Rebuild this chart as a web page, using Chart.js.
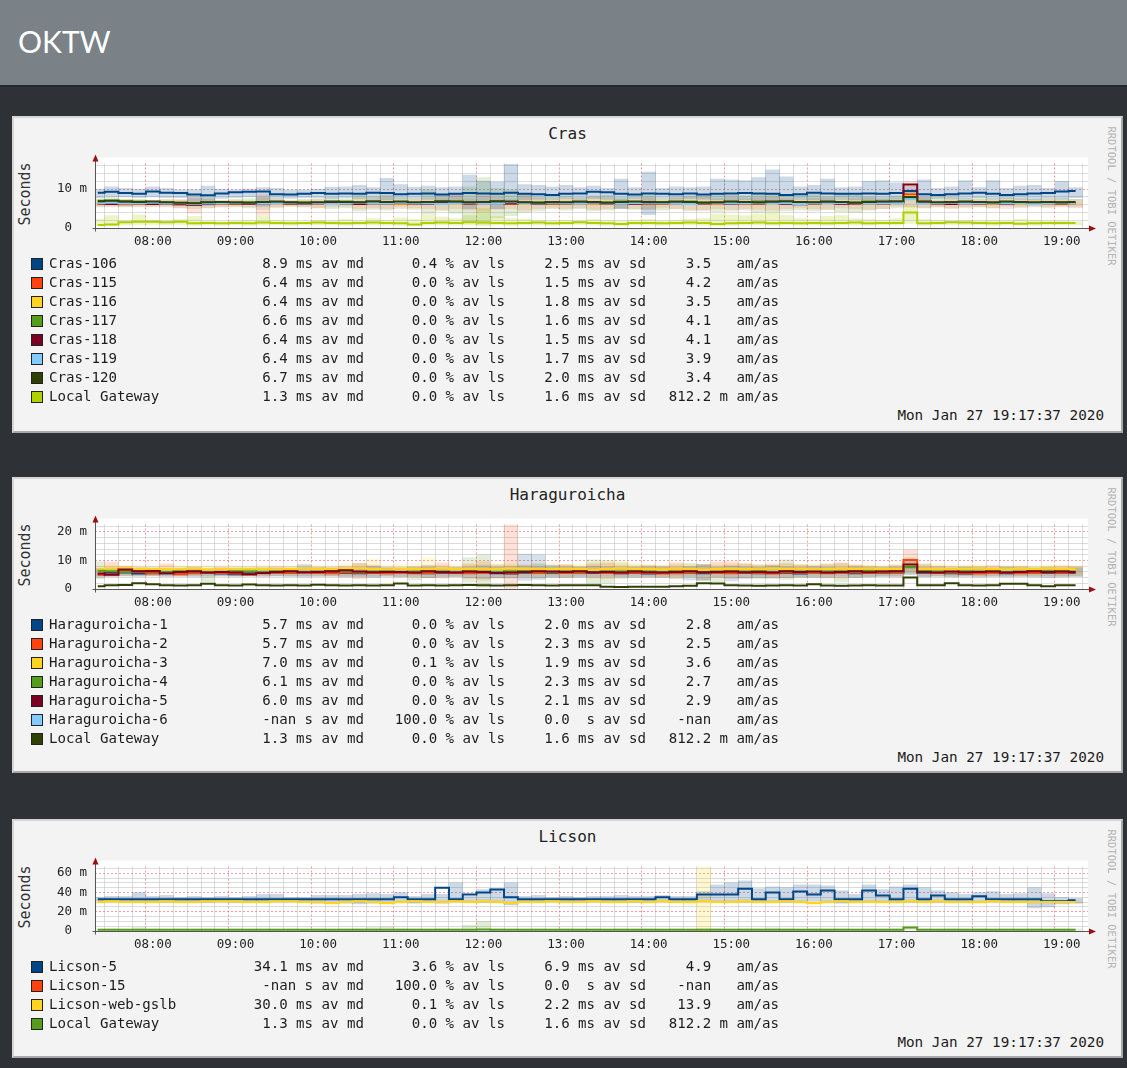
<!DOCTYPE html>
<html>
<head>
<meta charset="utf-8">
<title>OKTW</title>
<script src="https://cdn.jsdelivr.net/npm/chart.js@4.4.1/dist/chart.umd.min.js"></script>
<style>
  html, body { margin: 0; padding: 0; }
  body { width: 1127px; height: 1068px; background: #2e3236; position: relative; overflow: hidden; }
  .head { position: absolute; left: 0; top: 0; width: 1127px; height: 85px; background: #7a8187; border-bottom: 2px solid #24282b; }
  .head h1 { position: absolute; left: 18px; top: 23px; margin: 0; font: 400 30px Lato, "Open Sans", sans-serif; color: #fff; }
  .panel { position: absolute; left: 12px; width: 1111px; box-sizing: border-box; background: #f3f3f3;
           border: 2px solid #d6d6d6; border-right-color: #a9a9a9; border-bottom-color: #a9a9a9; }
  .panel canvas { position: absolute; left: 0; top: 30px; }
  .ttl { position: absolute; left: 0; width: 1107px; top: 6px; text-align: center; font: 16px "DejaVu Sans Mono", monospace; color: #222; }
  .ylab { position: absolute; left: 11px; top: 76px; transform: translate(-50%, -50%) rotate(-90deg); font: 15px "DejaVu Sans Mono", monospace; color: #333; white-space: nowrap; }
  .rrd { position: absolute; left: 1098px; top: 78px; transform: translate(-50%, -50%) rotate(90deg); font: 10.5px "DejaVu Sans Mono", monospace; color: #b4b4b4; white-space: nowrap; }
  .row { position: absolute; left: 0; width: 1107px; height: 19px; font: 14.1px "DejaVu Sans Mono", monospace; color: #1c1c1c; line-height: 19px; white-space: pre; }
  .row .sw { position: absolute; left: 17px; top: 4px; width: 10px; height: 10px; border: 1px solid #222; }
  .row .nm { position: absolute; left: 35px; }
  .row .c { position: absolute; }
  .date { position: absolute; right: 17px; font: 14.3px "DejaVu Sans Mono", monospace; color: #1c1c1c; line-height: 19px; white-space: pre; }
</style>
</head>
<body>
<div class="head"><h1>OKTW</h1></div>

<div class="panel" id="p1" style="top:116px;height:317px"></div>
<div class="panel" id="p2" style="top:477px;height:296px"></div>
<div class="panel" id="p3" style="top:819px;height:239px"></div>

<script>
// sample times (10 minute steps)
const times = [
  '07:20','07:30','07:40','07:50',
  '08:00','08:10','08:20','08:30','08:40','08:50',
  '09:00','09:10','09:20','09:30','09:40','09:50',
  '10:00','10:10','10:20','10:30','10:40','10:50',
  '11:00','11:10','11:20','11:30','11:40','11:50',
  '12:00','12:10','12:20','12:30','12:40','12:50',
  '13:00','13:10','13:20','13:30','13:40','13:50',
  '14:00','14:10','14:20','14:30','14:40','14:50',
  '15:00','15:10','15:20','15:30','15:40','15:50',
  '16:00','16:10','16:20','16:30','16:40','16:50',
  '17:00','17:10','17:20','17:30','17:40','17:50',
  '18:00','18:10','18:20','18:30','18:40','18:50',
  '19:00','19:10'
];
const hourTicks = ['08:00','09:00','10:00','11:00','12:00','13:00','14:00','15:00','16:00','17:00','18:00','19:00'];

// ---------- Cras (ms) ----------
const cras106 = [9.1,9.3,9.0,8.8,
  9.4,9.1,9.0,8.6,8.4,8.9, 9.2,9.3,9.4,8.7,8.6,8.8, 9.0,8.8,8.9,8.8,9.1,9.0,
  8.7,8.8,8.9,8.6,8.8,9.0, 8.9,8.8,9.1,8.8,8.7,8.5, 8.8,8.9,9.3,9.2,8.8,8.6,
  8.9,8.8,8.7,8.9,8.6,8.8, 8.9,9.0,8.9,8.8,8.5,8.7, 9.1,8.9,8.8,8.8,8.9,8.8,
  9.0,9.5,8.7,8.5,8.7,8.9, 9.1,8.8,8.5,8.7,8.9,9.0, 9.4,9.5];
const cras115 = [6.2,6.3,6.1,6.4,
  6.3,6.2,6.1,6.0,6.2,6.3, 6.4,6.2,6.3,6.5,6.6,6.4, 6.3,6.2,6.5,6.6,6.4,6.3,
  6.2,6.4,6.5,6.3,6.6,6.4, 6.5,6.6,6.3,6.4,6.2,6.3, 6.4,6.5,6.3,6.4,6.6,6.5,
  6.3,6.4,6.5,6.4,6.3,6.5, 6.4,6.3,6.5,6.6,6.4,6.2, 6.3,6.5,6.4,6.6,6.4,6.5,
  6.6,8.6,6.8,6.3,6.5,6.4, 6.3,6.5,6.6,6.4,6.3,6.5, 6.4,6.3];
const cras116 = [6.5,6.4,6.6,6.3,
  6.4,6.5,6.3,6.2,6.4,6.5, 6.3,6.4,6.6,6.5,6.3,6.4, 6.5,6.3,6.4,6.6,6.5,6.4,
  6.3,6.4,6.6,6.5,6.3,6.6, 6.7,6.5,6.4,6.3,6.5,6.4, 6.3,6.5,6.4,6.6,6.4,6.3,
  6.4,6.3,6.5,6.4,6.5,6.3, 6.4,6.6,6.4,6.3,6.5,6.4, 6.3,6.4,6.6,6.5,6.3,6.4,
  6.6,8.2,6.5,6.4,6.3,6.5, 6.4,6.3,6.5,6.4,6.6,6.4, 6.3,6.4];
const cras117 = [7.0,7.1,6.9,6.8,
  6.7,6.6,6.5,6.4,6.6,6.5, 6.4,6.6,6.7,6.5,6.4,6.6, 6.5,6.6,6.8,6.7,6.6,6.5,
  6.6,6.5,6.7,6.6,6.8,6.7, 6.6,6.8,6.7,6.5,6.6,6.4, 6.6,6.7,6.5,6.6,6.8,6.6,
  6.5,6.7,6.6,6.8,6.6,6.5, 6.7,6.6,6.8,6.7,6.5,6.6, 6.7,6.6,6.5,6.6,6.8,6.6,
  6.7,7.8,6.6,6.5,6.6,6.7, 6.6,6.5,6.7,6.6,6.5,6.6, 6.7,6.6];
const cras118 = [6.3,6.2,6.4,6.3,
  6.2,6.3,6.1,6.0,6.2,6.4, 6.3,6.2,6.4,6.6,6.3,6.2, 6.4,6.5,6.3,6.2,6.4,6.3,
  6.5,6.3,6.2,6.4,6.5,6.3, 6.4,6.6,6.3,6.5,6.2,6.4, 6.3,6.4,6.5,6.3,6.4,6.2,
  6.4,6.3,6.4,6.5,6.3,6.4, 6.2,6.4,6.3,6.5,6.2,6.1, 6.3,6.5,6.2,6.3,6.4,6.3,
  6.5,11.2,6.6,6.3,6.2,6.4, 6.3,6.4,6.2,6.5,6.3,6.4, 6.3,6.4];
const cras119 = [6.4,6.5,6.3,6.4,
  6.5,6.3,6.4,6.2,6.3,6.4, 6.5,6.4,6.3,6.4,6.5,6.3, 6.4,6.2,6.3,6.5,6.4,6.3,
  6.5,6.4,6.3,6.2,6.4,6.5, 6.3,6.4,6.6,6.4,6.3,6.5, 6.4,6.3,6.5,6.4,6.3,6.4,
  6.5,6.4,6.3,6.2,6.4,6.5, 6.3,6.4,6.5,6.3,6.4,6.2, 6.4,6.3,6.4,6.5,6.3,6.4,
  6.4,7.4,6.3,6.4,6.5,6.3, 6.4,6.5,6.3,6.4,6.2,6.4, 6.5,6.3];
const cras120 = [6.9,7.0,6.8,6.7,
  6.8,6.6,6.5,6.4,6.6,6.7, 6.6,6.5,6.7,6.8,6.6,6.5, 6.6,6.8,6.7,6.6,6.9,6.7,
  6.8,6.6,6.7,6.9,6.8,6.6, 6.7,6.9,6.8,6.6,6.5,6.7, 6.6,6.8,6.7,6.5,6.7,6.8,
  6.7,6.6,6.8,6.7,6.5,6.6, 6.8,6.7,6.6,6.8,6.9,6.7, 6.6,6.8,6.7,6.5,6.7,6.8,
  6.9,8.0,6.8,6.6,6.7,6.8, 6.7,6.6,6.8,6.7,6.6,6.7, 6.6,6.7];
const crasGw = [0.8,0.9,1.5,1.6,
  1.6,1.5,1.6,1.2,1.3,1.2, 1.3,1.2,1.4,1.3,1.2,1.3, 1.4,1.3,1.2,1.3,1.4,1.3,
  1.2,0.9,1.3,1.4,1.3,1.5, 1.4,1.3,1.2,1.3,1.4,1.2, 1.3,1.5,1.3,1.2,1.0,1.3,
  1.3,1.2,1.3,1.4,1.3,1.0, 1.2,1.3,1.4,1.2,1.3,1.2, 1.3,1.2,1.3,1.4,1.2,1.3,
  1.3,4.0,1.2,1.3,1.5,1.4, 1.3,1.2,1.3,1.1,1.2,1.3, 1.3,1.3];

// smoke ranges (low / high)
const cras106Lo = [7.8,8.0,8.0,7.8,
  8.0,7.8,7.8,6.0,5.8,7.6, 7.8,8.0,5.6,7.6,7.6,7.8, 7.8,7.6,7.8,7.6,7.4,7.2,
  7.4,7.6,7.4,7.0,7.2,5.0, 6.8,5.0,6.0,7.2,7.4,7.4, 7.6,7.4,7.6,7.4,5.0,7.6,
  3.4,7.6,7.4,7.6,7.4,7.2, 7.0,7.2,7.0,6.8,7.0,7.4, 7.2,7.0,7.4,7.2,7.0,7.0,
  7.4,7.6,7.2,7.6,7.6,7.4, 7.8,7.4,7.6,7.4,7.2,7.6, 7.4,7.8];
const cras106Hi = [10.0,10.6,10.2,10.0,
  10.6,10.2,9.8,9.9,10.8,10.0, 9.8,10.0,10.4,10.2,9.8,9.8, 10.0,10.5,10.6,11.0,10.4,12.8,
  11.2,10.5,10.8,10.4,10.6,13.6, 12.0,11.8,16.4,11.2,11.0,10.6, 11.0,10.4,10.8,10.2,12.6,10.4,
  14.4,10.2,10.6,10.4,10.6,12.6, 12.4,12.2,13.0,15.0,13.2,10.6, 11.0,12.6,10.4,10.6,12.0,12.2,
  11.6,10.8,12.4,10.2,10.6,12.2, 10.4,12.2,10.2,10.8,11.0,10.2, 12.0,10.4];
const cras117Lo = [5.4,5.6,5.4,5.6,
  5.4,5.6,5.2,5.0,5.2,5.4, 5.4,5.2,4.8,5.4,5.6,5.4, 5.2,5.0,5.2,4.4,4.8,4.6,
  5.0,4.8,3.6,4.4,3.8,1.6, 1.0,2.6,3.2,4.0,4.4,5.0, 4.6,5.0,4.4,4.6,5.0,4.8,
  4.8,4.6,5.0,4.4,4.6,4.2, 4.4,4.6,4.0,4.2,4.4,4.6, 4.4,4.8,4.2,4.0,4.6,5.0,
  5.2,5.4,5.2,5.4,5.2,5.4, 5.4,5.2,5.6,5.4,5.6,5.4, 5.6,5.4];
const cras117Hi = [7.6,7.8,7.4,7.4,
  7.2,7.4,7.2,7.6,7.8,7.2, 7.4,7.6,7.8,7.6,7.2,7.4, 7.6,7.8,7.6,8.4,8.0,8.6,
  7.8,7.6,9.8,8.8,8.6,10.6, 13.0,10.2,9.8,8.6,8.0,7.8, 8.2,7.8,8.2,8.4,7.8,8.0,
  8.4,7.6,8.0,8.2,8.0,8.8, 8.4,8.2,8.6,8.8,8.4,8.2, 8.8,8.0,8.6,8.4,8.0,7.8,
  8.2,9.6,7.8,8.0,7.8,7.6, 7.8,7.6,7.8,7.6,7.4,7.6, 7.6,7.4];
const cras115Lo = [5.6,5.4,5.6,5.4,
  5.6,5.4,5.2,3.8,5.2,5.4, 5.6,5.4,3.4,5.2,5.6,5.4, 5.2,5.4,5.6,5.0,5.2,5.0,
  5.4,5.2,5.0,4.8,5.0,4.6, 4.4,4.8,5.0,4.6,5.0,5.2, 5.0,5.2,4.8,5.0,5.2,5.0,
  4.8,5.2,5.0,4.8,4.6,5.0, 4.8,5.0,4.8,4.6,5.0,5.2, 5.0,4.8,5.2,5.0,4.8,5.0,
  5.6,5.4,5.2,5.4,5.0,5.2, 5.4,5.2,5.0,5.2,5.4,5.2, 5.4,5.2];
const cras115Hi = [7.2,7.0,7.4,7.2,
  7.0,7.2,7.4,8.0,7.4,7.0, 7.2,7.0,8.6,7.4,7.0,7.2, 7.4,7.2,7.0,7.6,7.4,7.8,
  7.2,7.4,7.6,7.8,8.4,7.6, 8.2,7.8,7.4,8.8,7.6,7.4, 7.6,7.4,7.8,7.6,7.4,7.6,
  7.8,7.4,7.6,7.8,8.2,7.6, 7.8,7.6,7.8,8.0,7.6,7.4, 7.6,7.8,7.4,7.6,7.8,7.4,
  7.6,12.0,8.0,7.2,7.6,7.2, 7.4,7.2,7.6,7.4,7.2,7.4, 7.2,7.4];
const crasGwLo = [0.6,0.6,0.8,0.9,
  0.9,0.8,0.9,0.7,0.8,0.7, 0.8,0.7,0.8,0.8,0.7,0.8, 0.8,0.8,0.7,0.8,0.8,0.7,
  0.7,0.6,0.8,0.8,0.7,0.8, 0.6,0.8,0.7,0.8,0.8,0.7, 0.8,0.9,0.8,0.7,0.6,0.8,
  0.8,0.7,0.8,0.8,0.7,0.6, 0.7,0.8,0.8,0.7,0.8,0.7, 0.8,0.7,0.8,0.8,0.7,0.8,
  0.8,1.2,0.7,0.8,0.9,0.8, 0.8,0.7,0.8,0.7,0.7,0.8, 0.8,0.8];
const crasGwHi = [2.2,3.2,1.8,3.4,
  2.0,1.8,2.2,3.0,1.8,1.6, 1.8,2.0,3.2,2.0,1.8,1.6, 2.0,1.8,2.2,1.8,2.4,2.0,
  2.6,2.2,3.4,2.8,2.4,3.2, 5.0,3.0,2.4,2.2,2.0,1.8, 2.0,1.8,2.2,2.0,1.8,2.0,
  2.2,1.8,2.0,2.2,2.4,3.6, 3.4,3.2,3.6,4.0,3.2,2.4, 2.2,3.0,3.2,2.4,2.2,2.0,
  2.4,5.6,2.2,2.0,1.8,2.0, 1.8,2.0,1.8,2.2,2.0,1.8, 1.8,1.6];

// ---------- Haraguroicha (ms) ----------
const har1 = [5.2,5.6,5.8,5.4,
  5.6,5.5,5.8,5.7,5.6,5.4, 5.2,5.5,5.7,5.8,5.6,5.9, 5.7,5.8,5.6,5.5,5.7,5.6,
  5.8,5.7,5.5,5.6,5.8,5.7, 5.6,5.5,5.4,5.7,5.8,5.6, 5.7,5.8,5.6,5.7,5.5,5.6,
  5.4,5.6,5.8,5.7,5.5,5.6, 5.7,5.6,5.5,5.8,5.6,5.4, 5.7,5.6,5.8,5.5,5.7,5.6,
  5.8,7.8,5.7,5.6,5.5,5.4, 5.6,5.7,5.5,5.6,5.8,5.6, 5.7,5.6];
const har2 = [5.0,5.2,6.4,6.0,
  5.4,5.6,5.2,5.5,5.7,5.6, 5.4,5.1,5.5,5.7,5.6,5.8, 5.6,5.5,5.8,5.7,5.6,5.5,
  5.7,5.5,5.6,5.8,5.6,5.5, 5.6,5.7,5.5,5.9,5.6,5.8, 5.6,5.7,5.8,5.6,5.5,5.7,
  5.6,5.4,5.5,5.7,5.8,5.6, 5.5,5.7,5.6,5.4,5.8,5.7, 5.6,5.5,5.7,5.8,5.6,5.7,
  5.8,10.2,5.9,5.6,5.7,5.5, 5.4,5.6,5.7,5.5,5.6,5.8, 5.7,5.8];
const har3 = [6.8,7.2,7.4,7.0,
  7.1,6.9,7.0,7.2,6.8,7.0, 6.9,7.1,7.0,6.8,7.0,7.2, 7.0,6.9,7.1,7.3,7.0,6.8,
  7.1,7.0,6.9,7.2,7.0,7.1, 6.9,7.0,7.2,7.1,6.9,7.0, 7.1,7.0,6.8,7.0,7.2,7.1,
  7.0,6.9,7.1,7.0,6.8,7.0, 7.1,7.0,6.9,7.2,7.0,7.1, 6.9,7.0,7.1,7.0,7.2,7.0,
  7.0,8.4,7.1,7.0,6.9,7.1, 7.2,7.0,6.9,7.1,7.0,7.2, 7.1,7.0];
const har4 = [6.4,6.2,6.0,6.3,
  6.1,6.0,6.2,6.1,5.9,6.0, 6.2,6.1,6.0,6.2,6.1,6.0, 6.1,6.3,6.2,6.0,6.1,6.2,
  6.0,6.1,6.2,6.1,6.0,6.2, 6.1,6.0,6.2,6.3,6.1,6.0, 6.2,6.1,6.0,6.2,6.1,6.3,
  6.1,6.0,6.2,6.1,6.0,6.1, 6.2,6.1,6.3,6.0,6.2,6.1, 6.0,6.1,6.2,6.1,6.3,6.1,
  6.2,7.6,6.3,6.1,6.0,6.2, 6.1,6.2,6.0,6.1,6.2,6.3, 6.2,6.1];
const har5 = [5.4,5.0,6.8,6.2,
  6.3,5.5,6.0,6.2,5.8,6.0, 5.8,5.2,5.6,6.0,6.2,5.9, 6.0,6.2,6.6,6.1,5.9,6.0,
  6.0,5.8,6.2,6.0,5.8,6.1, 6.0,5.6,5.8,6.0,6.2,6.1, 6.0,6.2,5.9,6.0,5.8,6.1,
  5.9,5.8,6.0,6.2,5.9,6.0, 6.1,5.9,6.0,5.8,6.2,6.0, 6.1,5.8,6.0,6.2,5.9,6.1,
  6.2,8.6,6.0,5.8,6.1,5.9, 6.0,6.1,5.8,6.0,6.2,6.0, 6.1,6.0];
const harGw = [1.0,1.3,1.4,2.0,
  1.7,1.3,1.2,1.3,1.8,1.3, 1.2,1.6,1.3,1.2,1.3,1.2, 1.5,1.3,1.2,1.3,1.2,1.3,
  1.9,1.2,1.3,1.2,1.3,1.4, 1.3,1.2,1.3,1.4,1.3,1.2, 1.3,1.3,1.3,0.8,0.7,0.8,
  0.8,0.8,1.0,1.1,2.0,1.9, 1.3,1.2,1.1,1.2,1.3,1.2, 1.7,1.2,1.1,1.2,1.3,1.2,
  1.2,4.0,1.3,1.3,2.0,1.3, 1.2,1.3,1.8,1.8,1.3,1.0, 1.3,1.3];

const har1Lo = [4.2,4.4,4.6,4.4,
  4.6,4.4,4.6,4.2,4.4,4.6, 4.4,4.6,4.4,4.6,4.4,4.2, 4.4,4.6,4.2,4.4,4.0,4.4,
  4.2,4.4,4.0,4.2,4.4,4.0, 3.6,4.0,3.8,3.0,3.4,4.0, 4.2,4.0,4.2,4.4,4.2,4.0,
  4.2,4.0,4.4,3.2,3.0,4.2, 2.8,3.6,4.0,3.8,4.0,4.2, 4.0,4.2,4.4,4.0,4.2,4.4,
  4.4,5.0,4.2,4.4,4.2,4.4, 4.2,4.4,4.2,4.4,4.2,4.0, 4.2,4.4];
const har1Hi = [7.0,7.2,7.4,7.0,
  7.2,7.0,6.8,7.2,7.0,7.4, 7.0,7.2,7.4,7.0,7.2,8.6, 7.4,7.2,7.0,7.6,8.0,7.4,
  7.2,7.4,7.6,7.2,7.4,7.8, 8.2,7.6,7.8,12.2,12.0,8.4, 7.8,7.6,8.0,7.8,7.4,7.6,
  7.8,7.6,7.4,7.8,8.6,7.6, 8.0,7.8,7.6,8.2,7.8,7.6, 7.8,7.6,7.4,7.8,7.6,7.4,
  7.6,10.4,7.6,7.4,7.2,7.6, 7.4,7.2,7.6,7.4,7.2,7.4, 7.2,7.4];
const har2Lo = [4.6,4.2,4.8,4.6,
  4.8,4.4,4.6,4.8,4.6,4.4, 4.6,4.8,4.4,4.6,4.8,4.6, 4.4,4.6,4.2,3.6,4.4,4.6,
  4.4,4.2,4.0,3.8,4.4,3.6, 3.0,3.8,0.2,4.0,4.2,4.4, 4.0,4.4,3.8,3.6,4.2,4.4,
  4.0,4.2,3.6,4.4,3.2,4.0, 3.8,4.0,4.2,3.8,4.0,4.2, 4.4,4.0,3.8,4.2,4.4,4.6,
  4.2,5.6,4.4,4.6,4.4,4.6, 4.6,4.4,4.6,4.4,4.6,4.4, 4.4,4.6];
const har2Hi = [7.2,9.4,8.0,7.4,
  7.0,8.8,7.2,7.6,7.0,7.4, 7.2,7.0,7.4,7.8,7.2,7.0, 7.6,7.4,7.8,9.0,8.4,7.6,
  7.4,7.8,8.2,9.2,7.6,8.8, 9.6,8.2,22.6,8.4,8.0,7.6, 8.6,7.8,8.8,9.0,8.2,7.8,
  8.2,8.0,9.2,8.0,8.6,9.4, 9.6,8.8,8.2,8.6,9.0,8.4, 8.0,8.6,9.2,8.4,8.0,7.8,
  8.4,13.8,8.8,8.0,7.8,7.6, 7.8,8.2,7.6,7.8,7.4,7.6, 8.0,7.8];
const har3Lo = [5.6,5.8,6.0,5.8,
  5.8,6.0,5.8,6.0,5.8,5.6, 5.8,6.0,5.8,5.6,5.8,6.0, 5.8,5.6,5.8,5.4,5.6,5.8,
  5.6,5.8,5.4,5.6,5.8,5.6, 5.4,5.6,5.4,5.6,5.4,5.6, 5.6,5.4,5.2,5.4,5.6,5.4,
  5.6,5.4,5.6,5.4,5.2,5.6, 5.4,5.6,5.4,5.2,5.6,5.4, 5.6,5.4,5.6,5.4,5.6,5.8,
  5.6,6.0,5.8,5.6,5.8,5.6, 5.8,5.6,5.8,5.6,5.8,5.6, 5.8,5.6];
const har3Hi = [8.2,8.4,8.0,8.2,
  8.0,8.4,8.2,8.0,8.2,8.4, 8.2,8.0,8.4,8.2,8.0,8.6, 8.4,8.2,8.8,8.6,10.6,8.4,
  8.6,8.8,11.0,8.4,8.6,8.8, 8.8,9.0,9.2,8.6,8.8,9.0, 8.6,8.8,9.2,9.4,9.6,9.0,
  8.8,8.6,9.0,8.8,8.6,8.8, 9.0,8.8,8.6,9.0,8.8,8.6, 8.8,8.6,8.4,8.8,8.6,8.4,
  8.6,9.6,8.4,8.8,8.6,8.4, 8.6,8.4,8.2,8.4,8.2,8.4, 8.6,8.4];
const har4Lo = [3.6,4.8,4.6,4.8,
  4.6,4.8,4.4,4.6,2.6,4.8, 4.6,4.4,4.8,4.6,4.4,4.6, 4.8,4.4,4.6,4.2,4.4,4.6,
  4.2,3.2,4.0,4.4,4.2,2.4, 0.6,3.8,4.0,4.4,3.8,4.2, 4.0,4.4,1.2,2.0,3.6,4.2,
  4.4,4.2,3.8,4.2,3.0,2.6, 3.8,4.0,3.6,4.2,3.4,4.0, 4.2,3.8,2.4,4.0,4.2,4.4,
  4.6,5.2,4.4,4.6,4.4,4.6, 4.4,4.6,4.4,4.6,4.4,4.6, 4.6,4.4];
const har4Hi = [9.6,7.4,7.2,7.6,
  7.4,7.2,7.6,7.8,7.4,7.2, 7.6,7.4,7.2,7.4,7.8,7.6, 7.4,7.6,8.0,9.0,7.8,7.4,
  7.6,7.8,8.4,8.0,7.6,11.0, 12.0,8.6,8.4,8.0,8.8,8.2, 8.4,8.0,10.2,10.0,9.2,8.4,
  8.2,8.0,8.4,9.0,8.6,8.2, 8.4,8.8,8.6,8.2,10.2,8.6, 8.4,8.8,9.0,8.2,8.0,7.8,
  8.2,11.0,8.6,8.0,7.8,8.0, 7.8,7.6,8.0,7.8,7.6,7.8, 7.6,7.8];

// ---------- Licson (ms) ----------
const lic5 = [33,33,33,33,
  33,33,33,33,33,33, 33,33,33,33,33,33, 33,33,33,33,33,33,
  35,33,33,45,33,38, 40,43,35,33,33,33, 33,33,33,33,33,33,
  33,35,33,33,38,38, 38,44,33,40,33,41, 38,42,33,33,42,37,
  33,44,33,37,33,33, 36,33,33,33,33,31, 31,32];
const licGslb = [30,31,30,30,
  30,31,30,30,31,31, 31,30,30,31,31,30, 30,29,30,31,30,29,
  30,31,30,30,31,30, 31,30,29,30,30,31, 30,30,31,30,30,31,
  30,31,30,30,31,30, 30,31,30,30,31,30, 29,30,31,30,30,30,
  30,31,30,31,30,30, 30,31,30,30,30,30, 30,30];
const licGw = [1.2,1.3,1.2,1.4,
  1.3,1.2,1.3,1.2,1.3,1.2, 1.3,1.2,1.3,1.3,1.2,1.3, 1.2,1.3,1.2,1.3,1.4,1.3,
  1.3,1.2,1.3,1.2,1.3,1.4, 1.5,1.3,1.2,1.3,1.2,1.3, 1.3,1.2,1.3,1.2,1.3,1.2,
  1.3,1.2,1.3,1.2,1.3,1.2, 1.3,1.2,1.4,1.3,1.2,1.3, 1.2,1.3,1.2,1.3,1.2,1.3,
  1.3,3.6,1.3,1.2,1.3,1.2, 1.3,1.2,1.3,1.2,1.3,1.2, 1.3,1.3];

const lic5Lo = [31,31,30,31,
  31,30,31,31,30,31, 30,31,30,31,31,30, 29,30,29,28,29,29,
  30,29,30,29,31,30, 30,31,27,30,31,31, 31,30,31,30,31,30,
  30,31,30,30,31,30, 30,30,31,30,30,30, 31,30,29,30,30,31,
  30,30,31,30,30,31, 30,31,30,30,24,25, 28,29];
const lic5Hi = [35,36,36,40,
  36,37,35,36,35,36, 35,36,38,38,35,35, 37,37,37,38,39,38,
  40,36,38,38,50,36, 43,44,50,36,37,35, 36,35,36,36,37,36,
  36,37,36,36,41,48, 50,52,44,46,45,48, 48,47,42,38,48,43,
  46,48,45,42,40,38, 40,41,38,39,45,39, 35,34];
const licGslbLo = [28,29,28,28,
  28,29,28,28,29,29, 29,28,28,29,29,28, 28,27,28,29,28,27,
  28,29,28,28,29,28, 29,28,27,28,28,29, 28,28,29,28,28,29,
  28,29,28,27,0,28, 28,29,28,28,29,28, 27,28,29,28,28,28,
  28,29,28,29,28,28, 28,29,28,28,28,28, 28,28];
const licGslbHi = [32,33,32,32,
  32,33,32,32,33,33, 33,32,32,33,33,32, 32,31,32,33,32,31,
  32,33,32,32,33,32, 33,32,31,32,32,33, 32,32,33,32,32,33,
  32,33,32,34,67,32, 32,33,32,32,33,32, 31,32,33,32,32,32,
  32,33,32,33,32,32, 32,33,32,32,32,32, 32,32];
const licGwLo = [0.6,0.7,0.6,0.7,
  0.6,0.7,0.6,0.7,0.6,0.7, 0.6,0.7,0.6,0.7,0.6,0.7, 0.6,0.7,0.6,0.7,0.6,0.6,
  0.7,0.6,0.7,0.6,0.7,0.6, 0.5,0.7,0.6,0.7,0.6,0.7, 0.6,0.7,0.6,0.7,0.6,0.7,
  0.6,0.7,0.6,0.7,0.6,0.7, 0.6,0.7,0.6,0.7,0.6,0.7, 0.6,0.7,0.6,0.7,0.6,0.7,
  0.6,0.8,0.6,0.7,0.6,0.7, 0.6,0.7,0.6,0.7,0.6,0.7, 0.6,0.7];
const licGwHi = [2.0,2.2,2.0,3.6,
  2.2,2.0,2.2,2.0,2.2,2.0, 2.2,2.0,2.2,2.0,2.2,2.0, 2.2,2.0,2.2,2.4,3.6,4.2,
  2.6,2.2,2.0,2.4,2.2,6.0, 10.0,2.6,2.2,2.0,2.2,2.0, 2.2,2.0,2.2,2.0,2.2,2.0,
  2.2,2.0,2.2,2.0,2.6,2.4, 2.2,2.4,2.2,3.2,2.2,2.0, 2.2,2.0,2.2,2.0,2.2,2.0,
  2.2,4.0,2.2,2.0,2.2,2.0, 2.2,2.0,2.2,2.0,2.2,2.0, 2.2,2.0];

// ---------- legend text ----------
const crasNames = ['Cras-106','Cras-115','Cras-116','Cras-117','Cras-118','Cras-119','Cras-120','Local Gateway'];
const crasMd = ['8.9 ms','6.4 ms','6.4 ms','6.6 ms','6.4 ms','6.4 ms','6.7 ms','1.3 ms'];
const crasLs = ['0.4','0.0','0.0','0.0','0.0','0.0','0.0','0.0'];
const crasSd = ['2.5 ms','1.5 ms','1.8 ms','1.6 ms','1.5 ms','1.7 ms','2.0 ms','1.6 ms'];
const crasAm = ['3.5  ','4.2  ','3.5  ','4.1  ','4.1  ','3.9  ','3.4  ','812.2 m'];

const harNames = ['Haraguroicha-1','Haraguroicha-2','Haraguroicha-3','Haraguroicha-4','Haraguroicha-5','Haraguroicha-6','Local Gateway'];
const harMd = ['5.7 ms','5.7 ms','7.0 ms','6.1 ms','6.0 ms','-nan s','1.3 ms'];
const harLs = ['0.0','0.0','0.1','0.0','0.0','100.0','0.0'];
const harSd = ['2.0 ms','2.3 ms','1.9 ms','2.3 ms','2.1 ms','0.0  s','1.6 ms'];
const harAm = ['2.8  ','2.5  ','3.6  ','2.7  ','2.9  ','-nan  ','812.2 m'];

const licNames = ['Licson-5','Licson-15','Licson-web-gslb','Local Gateway'];
const licMd = ['34.1 ms','-nan s','30.0 ms','1.3 ms'];
const licLs = ['3.6','100.0','0.1','0.0'];
const licSd = ['6.9 ms','0.0  s','2.2 ms','1.6 ms'];
const licAm = ['4.9  ','-nan  ','13.9  ','812.2 m'];

const palette = ['#004586','#ff420e','#ffd320','#579d1c','#7e0021','#83caff','#314004','#aecf00'];
const stamp = 'Mon Jan 27 19:17:37 2020';

function toMin(s) { return parseInt(s.slice(0, 2), 10) * 60 + parseInt(s.slice(3), 10); }
function hhmm(v) { const h = Math.floor(v / 60), m = v % 60; return (h < 10 ? '0' : '') + h + ':' + (m < 10 ? '0' : '') + m; }
function rgba(hex, a) {
  const n = parseInt(hex.slice(1), 16);
  return 'rgba(' + (n >> 16) + ',' + ((n >> 8) & 255) + ',' + (n & 255) + ',' + a + ')';
}
const hourSet = hourTicks.map(toMin);
const MINOR = 'rgba(185,185,185,0.5)', MAJOR = 'rgba(232,96,96,0.6)';

function lineSet(vals, color, order) {
  return {
    type: 'line', data: times.map((t, i) => ({ x: toMin(t), y: vals[i] })),
    borderColor: color, borderWidth: 2, pointRadius: 0, stepped: 'middle', fill: false, order: order
  };
}
function smokeSet(lo, hi, color, a) {
  return {
    type: 'bar', data: times.map((t, i) => ({ x: toMin(t), y: [lo[i], hi[i]] })),
    backgroundColor: rgba(color, a), borderWidth: 0, grouped: false,
    barPercentage: 1, categoryPercentage: 1, order: 500
  };
}

// white plot area + red axis arrows like rrdtool
const rrdPlugin = {
  id: 'rrd',
  beforeDraw(chart) {
    const a = chart.chartArea, ctx = chart.ctx;
    ctx.save(); ctx.fillStyle = '#ffffff';
    ctx.fillRect(a.left, a.top - 6, a.right - a.left, a.bottom - a.top + 6);
    ctx.restore();
  },
  afterDraw(chart) {
    const a = chart.chartArea, ctx = chart.ctx;
    const x0 = Math.round(a.left) + 0.5, y0 = Math.round(a.bottom) + 0.5;
    ctx.save();
    ctx.strokeStyle = '#555'; ctx.lineWidth = 1;
    ctx.beginPath(); ctx.moveTo(x0, y0 + 3); ctx.lineTo(x0, a.top - 4); ctx.stroke();
    ctx.beginPath(); ctx.moveTo(x0 - 3, y0); ctx.lineTo(a.right + 3, y0); ctx.stroke();
    ctx.fillStyle = '#a00d0d';
    ctx.beginPath(); ctx.moveTo(x0 - 3, a.top - 2); ctx.lineTo(x0 + 3, a.top - 2); ctx.lineTo(x0, a.top - 9); ctx.closePath(); ctx.fill();
    ctx.beginPath(); ctx.moveTo(a.right + 1, y0 - 3); ctx.lineTo(a.right + 1, y0 + 3); ctx.lineTo(a.right + 8, y0); ctx.closePath(); ctx.fill();
    ctx.restore();
  }
};

function buildPanel(id, title, ymax, minor, major, lines, smokes, names, md, ls, sd, am) {
  const p = document.getElementById(id);
  let html = '<div class="ttl">' + title + '</div><div class="ylab">Seconds</div>' +
             '<div class="rrd">RRDTOOL / TOBI OETIKER</div>' +
             '<canvas width="1107" height="110"></canvas>';
  names.forEach((n, i) => {
    const top = 136 + i * 19;
    html += '<div class="row" style="top:' + top + 'px">' +
      '<span class="sw" style="background:' + palette[i] + '"></span>' +
      '<span class="nm">' + n + '</span>' +
      '<span class="c" style="right:757px">' + md[i] + ' av md</span>' +
      '<span class="c" style="right:616px">' + ls[i] + ' % av ls</span>' +
      '<span class="c" style="right:475px">' + sd[i] + ' av sd</span>' +
      '<span class="c" style="right:342px">' + am[i] + ' am/as</span></div>';
  });
  html += '<div class="date" style="top:' + (136 + names.length * 19) + 'px">' + stamp + '</div>';
  p.innerHTML = html;

  const datasets = [];
  smokes.forEach(s => datasets.push(smokeSet(s[0], s[1], palette[s[2]], s[3])));
  lines.forEach((l, i) => { if (l) datasets.push(lineSet(l, palette[i], 100 - i)); });

  new Chart(p.querySelector('canvas'), {
    type: 'line',
    data: { datasets: datasets },
    options: {
      responsive: false, animation: false, devicePixelRatio: 1,
      layout: { padding: { top: 12, right: 33, left: 0, bottom: 0 } },
      plugins: { legend: { display: false }, tooltip: { enabled: false } },
      scales: {
        x: {
          type: 'linear', min: 438, max: 1159, offset: false,
          afterFit: s => { s.height = 30; },
          ticks: {
            stepSize: 10, autoSkip: false, includeBounds: false, maxRotation: 0, padding: 6,
            color: '#222', font: { family: 'DejaVu Sans Mono', size: 12.5 },
            callback: v => hourSet.indexOf(v) >= 0 ? hhmm(v) : ''
          },
          grid: {
            drawTicks: false, lineWidth: 1,
            color: c => (c.tick && hourSet.indexOf(c.tick.value) >= 0) ? MAJOR : MINOR
          },
          border: { display: false, dash: c => (c.tick && hourSet.indexOf(c.tick.value) >= 0) ? [2, 2] : [] }
        },
        y: {
          min: 0, max: ymax,
          afterFit: s => { s.width = 81; },
          ticks: {
            stepSize: minor, autoSkip: false, includeBounds: false, padding: 8,
            color: '#222', font: { family: 'DejaVu Sans Mono', size: 12.5 },
            callback: v => v % major === 0 ? (v === 0 ? '0  ' : v + ' m') : ''
          },
          grid: {
            drawTicks: false, lineWidth: 1,
            color: c => (c.tick && c.tick.value > 0 && c.tick.value % major === 0) ? MAJOR : MINOR
          },
          border: { display: false, dash: c => (c.tick && c.tick.value > 0 && c.tick.value % major === 0) ? [2, 2] : [] }
        }
      }
    },
    plugins: [rrdPlugin]
  });
}

buildPanel('p1', 'Cras', 16.6, 2, 10,
  [cras106, cras115, cras116, cras117, cras118, cras119, cras120, crasGw],
  [[cras106Lo, cras106Hi, 0, 0.2], [cras115Lo, cras115Hi, 1, 0.14], [cras117Lo, cras117Hi, 3, 0.18], [crasGwLo, crasGwHi, 7, 0.22]],
  crasNames, crasMd, crasLs, crasSd, crasAm);

buildPanel('p2', 'Haraguroicha', 22.6, 2, 10,
  [har1, har2, har3, har4, har5, null, harGw],
  [[har1Lo, har1Hi, 0, 0.16], [har2Lo, har2Hi, 1, 0.16], [har3Lo, har3Hi, 2, 0.16], [har4Lo, har4Hi, 3, 0.16]],
  harNames, harMd, harLs, harSd, harAm);

buildPanel('p3', 'Licson', 67, 5, 20,
  [lic5, null, licGslb, licGw],
  [[lic5Lo, lic5Hi, 0, 0.2], [licGslbLo, licGslbHi, 2, 0.2], [licGwLo, licGwHi, 3, 0.18]],
  licNames, licMd, licLs, licSd, licAm);
</script>
</body>
</html>
